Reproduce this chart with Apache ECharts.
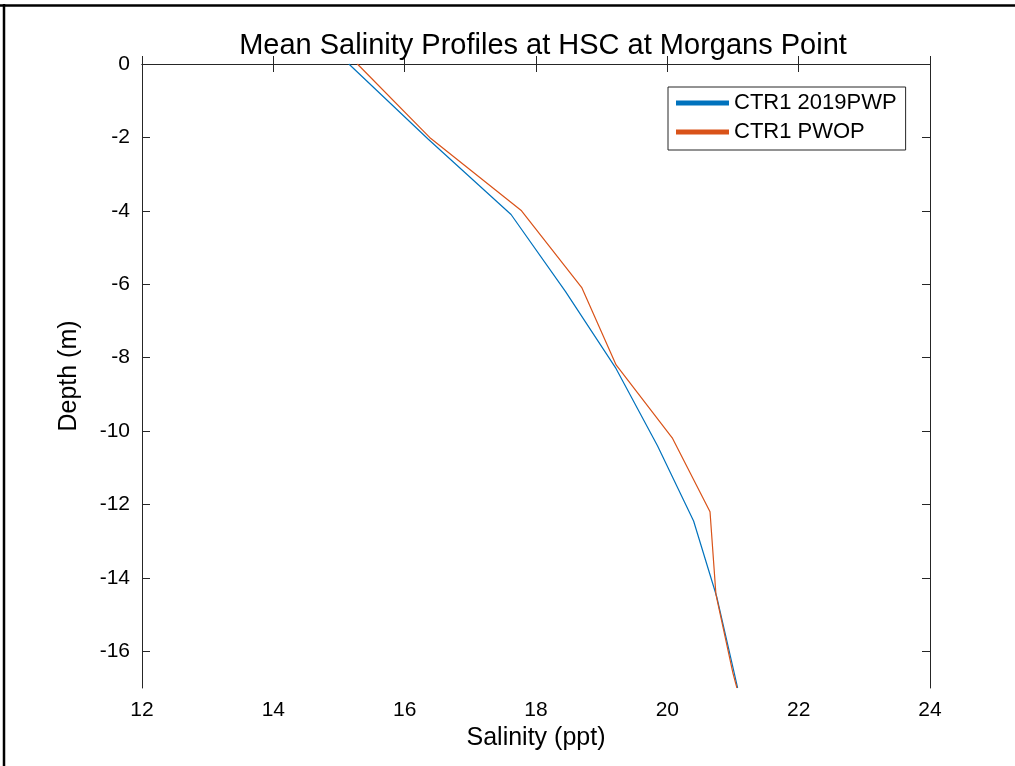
<!DOCTYPE html>
<html>
<head>
<meta charset="utf-8">
<script src="https://cdn.jsdelivr.net/npm/echarts@6/dist/echarts.min.js"></script>
<style>
html,body{margin:0;padding:0;background:#fff;}
#chart{width:1015px;height:766px;}
</style>
</head>
<body>
<div id="chart"></div>
<script>
// Salinity (ppt) and depth (m) for each profile
const seriesNames = ['CTR1 2019PWP', 'CTR1 PWOP'];
const pwpSalinity = [15.15, 16.36, 17.62, 18.45, 19.22, 19.85, 20.40, 20.75, 21.02, 21.07];
const pwpDepth    = [0, -2.05, -4.1, -6.2, -8.3, -10.4, -12.45, -14.5, -16.6, -17.0];
const pwopSalinity = [15.28, 16.38, 17.78, 18.70, 19.22, 20.08, 20.65, 20.74, 21.00, 21.06];
const pwopDepth    = [0, -2.0, -4.0, -6.1, -8.2, -10.2, -12.2, -14.45, -16.6, -17.0];
const xTicks = [12, 14, 16, 18, 20, 22, 24];
const yTicks = [0, -2, -4, -6, -8, -10, -12, -14, -16];

const FONT = 'Liberation Sans, Arial, Helvetica, sans-serif';
const AXC = '#262626';

function pairs(xs, ys) { return xs.map((x, i) => [x, ys[i]]); }

const chart = echarts.init(document.getElementById('chart'), null, {renderer: 'canvas'});

const baseX = {
  type: 'value', min: 12, max: 24, interval: 2,
  axisLine: {show: true, lineStyle: {color: AXC, width: 1}},
  axisTick: {show: true, inside: true, length: 8, lineStyle: {color: AXC}},
  splitLine: {show: false}
};
const baseY = {
  type: 'value', min: -17, max: 0,
  axisLine: {show: true, onZero: false, lineStyle: {color: AXC, width: 1}},
  axisTick: {show: true, inside: true, length: 8, customValues: yTicks, lineStyle: {color: AXC}},
  splitLine: {show: false}
};

chart.setOption({
  backgroundColor: '#fff',
  animation: false,
  title: {
    text: 'Mean Salinity Profiles at HSC at Morgans Point',
    left: 538, top: 26, textAlign: 'center',
    textStyle: {fontFamily: FONT, fontSize: 29, fontWeight: 'normal', color: '#000'}
  },
  grid: {left: 142, right: 85, top: 64, bottom: 78, containLabel: false},
  legend: {
    orient: 'vertical', left: 668, top: 87,
    data: seriesNames,
    icon: 'rect', itemWidth: 53, itemHeight: 5, itemGap: 5,
    backgroundColor: '#fff', borderColor: AXC, borderWidth: 1,
    padding: [4, 9, 6, 8],
    textStyle: {fontFamily: FONT, fontSize: 22, color: '#000', lineHeight: 24}
  },
  xAxis: [
    Object.assign({}, baseX, {
      position: 'bottom',
      axisTick: Object.assign({}, baseX.axisTick, {customValues: xTicks}),
      axisLabel: {show: true, customValues: xTicks, margin: 12, fontFamily: FONT, fontSize: 21, color: '#000'},
      name: 'Salinity (ppt)', nameLocation: 'middle', nameGap: 32,
      nameTextStyle: {fontFamily: FONT, fontSize: 25, color: '#000'}
    }),
    Object.assign({}, baseX, {
      position: 'top',
      axisTick: Object.assign({}, baseX.axisTick, {customValues: xTicks}),
      axisLabel: {show: false}
    })
  ],
  yAxis: [
    Object.assign({}, baseY, {
      position: 'left',
      axisLabel: {show: true, customValues: yTicks, margin: 12, fontFamily: FONT, fontSize: 21, color: '#000'},
      name: 'Depth (m)', nameLocation: 'middle', nameGap: 60,
      nameTextStyle: {fontFamily: FONT, fontSize: 25, color: '#000'}
    }),
    Object.assign({}, baseY, {
      position: 'right',
      axisLabel: {show: false}
    })
  ],
  series: [
    {
      name: seriesNames[0], type: 'line', xAxisIndex: 0, yAxisIndex: 0,
      data: pairs(pwpSalinity, pwpDepth),
      showSymbol: false, symbol: 'none',
      color: '#0072BD',
      lineStyle: {color: '#0072BD', width: 1.2}
    },
    {
      name: seriesNames[1], type: 'line', xAxisIndex: 0, yAxisIndex: 0,
      data: pairs(pwopSalinity, pwopDepth),
      showSymbol: false, symbol: 'none',
      color: '#D95319',
      lineStyle: {color: '#D95319', width: 1.2}
    }
  ],
  graphic: [
    {type: 'line', shape: {x1: 0, y1: 5.5, x2: 1015, y2: 5.5}, style: {stroke: '#000', lineWidth: 2.5}, silent: true},
    {type: 'line', shape: {x1: 4, y1: 4, x2: 4, y2: 766}, style: {stroke: '#000', lineWidth: 2.5}, silent: true}
  ]
});
</script>
</body>
</html>
